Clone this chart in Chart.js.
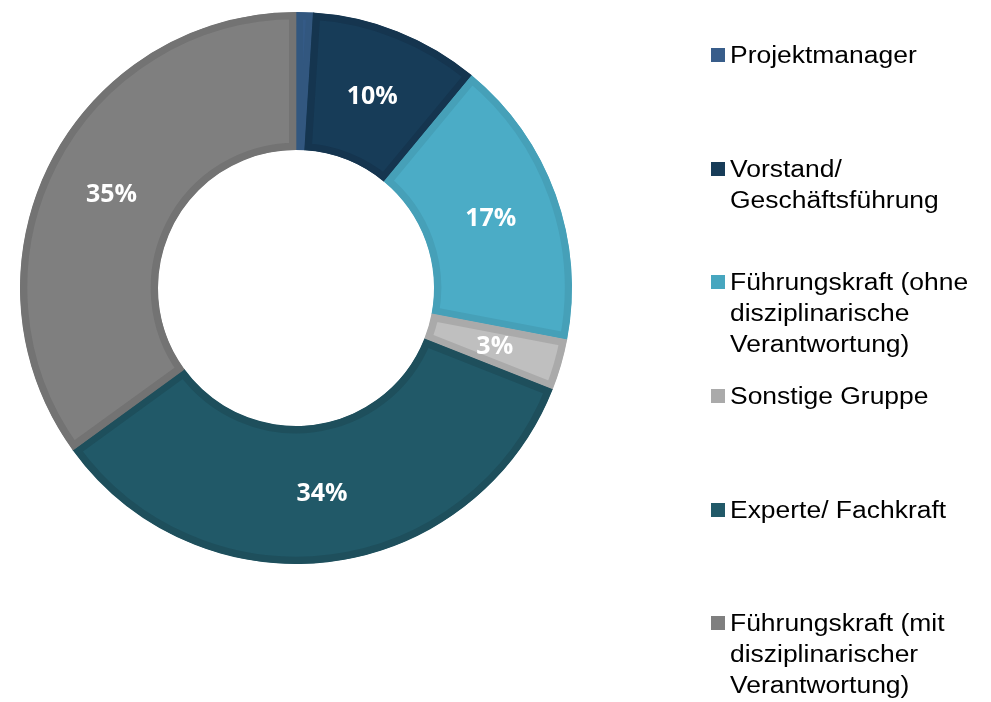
<!DOCTYPE html>
<html>
<head>
<meta charset="utf-8">
<script src="https://cdn.jsdelivr.net/npm/chart.js@4"></script>
<style>
  html, body { margin: 0; padding: 0; background: #ffffff; }
  #wrap { position: relative; width: 991px; height: 702px; overflow: hidden; }
  #chart { position: absolute; left: 0; top: 0; }
  #legend { position: absolute; left: 711px; top: 40px; width: 280px; }
  .item { position: relative; height: 113.7px; }
  .sw { position: absolute; left: 0; top: 8px; width: 14px; height: 14px; }
  .txt { position: absolute; left: 19px; top: 0; font-family: "Liberation Sans", Arial, sans-serif;
         font-size: 23px; line-height: 31px; color: #000; white-space: nowrap;
         transform: scaleX(1.15); transform-origin: left top; }
</style>
</head>
<body>
<div id="wrap">
  <canvas id="chart" width="991" height="702"></canvas>
  <div id="legend"></div>
</div>
<script>
// ---- data ----
const categories = [
  "Projektmanager",
  "Vorstand/ Geschäftsführung",
  "Führungskraft (ohne disziplinarische Verantwortung)",
  "Sonstige Gruppe",
  "Experte/ Fachkraft",
  "Führungskraft (mit disziplinarischer Verantwortung)"
];
const legendLines = [
  ["Projektmanager"],
  ["Vorstand/", "Geschäftsführung"],
  ["Führungskraft (ohne", "disziplinarische", "Verantwortung)"],
  ["Sonstige Gruppe"],
  ["Experte/ Fachkraft"],
  ["Führungskraft (mit", "disziplinarischer", "Verantwortung)"]
];
const shares = [1, 10, 17, 3, 34, 35];
const fillColors = ["#345A86", "#173C58", "#4BACC6", "#BFBFBF", "#215968", "#7F7F7F"];
const edgeColors = ["#32577F", "#15354F", "#46A0B8", "#AAAAAA", "#1E4F5C", "#737373"];
const swatchColors = ["#385D8A", "#173C58", "#47A6BF", "#AAAAAA", "#215968", "#7F7F7F"];

// ---- labels plugin ----
const pctLabels = {
  id: 'pctLabels',
  afterDatasetsDraw(chart) {
    const ctx = chart.ctx;
    const meta = chart.getDatasetMeta(0);
    ctx.save();
    ctx.font = 'bold 25px "Open Sans", sans-serif';
    ctx.fillStyle = '#FFFFFF';
    ctx.textAlign = 'center';
    ctx.textBaseline = 'middle';
    meta.data.forEach((arc, i) => {
      const v = shares[i];
      if (v < 2) return;
      const p = arc.tooltipPosition();
      ctx.fillText(v + '%', p.x, p.y + 1);
    });
    ctx.restore();
  }
};

new Chart(document.getElementById('chart'), {
  type: 'doughnut',
  data: {
    labels: categories,
    datasets: [{
      data: shares,
      backgroundColor: fillColors,
      borderColor: edgeColors,
      borderWidth: 7,
      borderAlign: 'inner',
      borderJoinStyle: 'miter',
      offset: 0,
      hoverOffset: 0,
      spacing: 0
    }]
  },
  options: {
    responsive: false,
    animation: false,
    events: [],
    cutout: '50%',
    layout: { padding: { left: 20, top: 12, right: 419, bottom: 138 } },
    plugins: { legend: { display: false }, tooltip: { enabled: false } }
  },
  plugins: [pctLabels]
});

// ---- HTML legend ----
const legend = document.getElementById('legend');
legendLines.forEach((lines, i) => {
  const item = document.createElement('div');
  item.className = 'item';
  const sw = document.createElement('div');
  sw.className = 'sw';
  sw.style.background = swatchColors[i];
  const txt = document.createElement('div');
  txt.className = 'txt';
  lines.forEach((l, j) => {
    if (j) txt.appendChild(document.createElement('br'));
    txt.appendChild(document.createTextNode(l));
  });
  item.appendChild(sw);
  item.appendChild(txt);
  legend.appendChild(item);
});
</script>
</body>
</html>
